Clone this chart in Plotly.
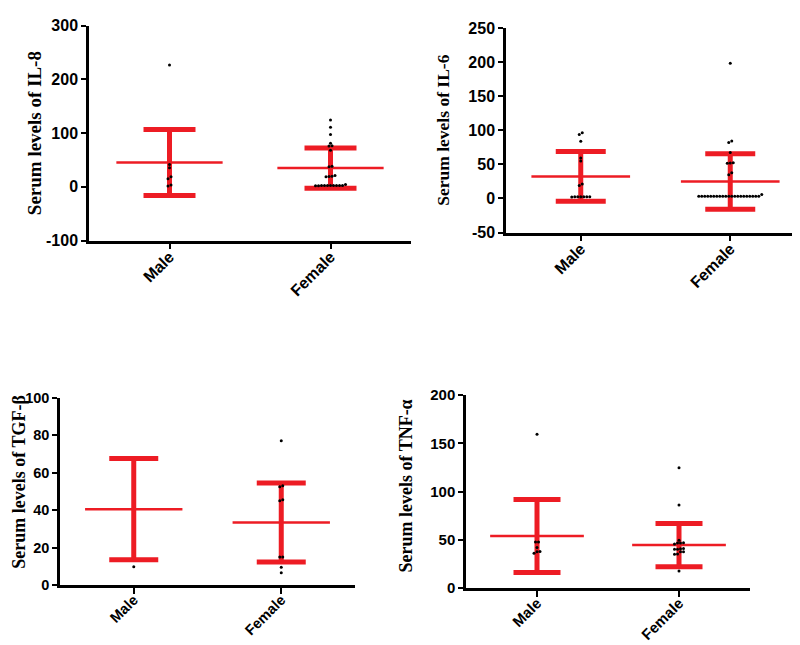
import plotly.graph_objects as go

# ---------------- data ----------------
categories = ["Male", "Female"]
y_titles = ["Serum levels of IL-8", "Serum levels of IL-6",
            "Serum levels of TGF-β", "Serum levels of TNF-α"]

il8_male = [227, 41.7, 35.6, 18.7, 15, 3.6, 1.8]
il8_female = [124.5, 111, 97.3, 81, 76.5, 76, 68, 38.5, 37.5, 21, 20, 19.5, 19,
              4.2, 2.6, 2.5, 2.4, 2.4, 2.3, 2.4, 2.5, 2.4, 2.3, 2.4]
il8_mean = [45.3, 35.0]
il8_sd = [61.3, 37.5]

il6_male = [96.7, 94, 84, 59.5, 55, 21.4, 19, 2.4, 2.4, 2.5, 2.3, 2.4, 2.4, 2.5]
il6_female = [198.6, 84.3, 82.4, 67.6, 52.5, 52, 51.6, 38, 34.8, 5.7] + [3.3] * 21
il6_mean = [32.4, 25.0]
il6_sd = [36.6, 40.7]

tgf_male = [9.7]
tgf_female = [77, 53, 52.5, 45.5, 45, 15, 15, 9.5, 6.6]
tgf_mean = [40.5, 33.4]
tgf_sd = [27.0, 21.1]

tnf_male = [159.3, 47.7, 47.5, 42, 37.8, 37.5, 36]
tnf_female = [124.7, 86, 49.4, 46.7, 46.5, 46.8, 45.5, 41, 40.5, 40, 40.2,
              37.6, 37.4, 35, 35.2, 17.5]
tnf_mean = [53.8, 44.4]
tnf_sd = [37.8, 22.5]

y_ticks = [[-100, 0, 100, 200, 300],
           [-50, 0, 50, 100, 150, 200, 250],
           [0, 20, 40, 60, 80, 100],
           [0, 50, 100, 150, 200]]

# ---------------- layout (pixel boxes) ----------------
W, H = 800, 645
RED = "#ED1C24"
panels = [
    dict(px=(81, 403), py=(9, 230), tx=26, ta="center", ty=119.5, ts=19, fs=16, cap=26,
         pts=(il8_male, il8_female), mean=il8_mean, sd=il8_sd),
    dict(px=(498, 797), py=(11.7, 221.7), tx=435.5, ta="center", ty=116.5, ts=17.5, fs=16, cap=25,
         pts=(il6_male, il6_female), mean=il6_mean, sd=il6_sd),
    dict(px=(52, 347), py=(391.7, 584.3), tx=0, ta="left", ty=478, ts=18, fs=14.5, cap=24.5,
         pts=(tgf_male, tgf_female), mean=tgf_mean, sd=tgf_sd),
    dict(px=(458, 742), py=(389, 587.3), tx=398, ta="center", ty=483, ts=18, fs=15, cap=23.5,
         pts=(tnf_male, tnf_female), mean=tnf_mean, sd=tnf_sd),
]


def swarm(values, center, thresh, step):
    groups = []
    for v in sorted(values):
        if groups and v - groups[-1][0] <= thresh:
            groups[-1].append(v)
        else:
            groups.append([v])
    xs, ys = [], []
    for g in groups:
        n = len(g)
        for k, v in enumerate(g):
            xs.append(center + (k - (n - 1) / 2) * step)
            ys.append(v)
    return xs, ys


fig = go.Figure()
annotations = []
for i, p in enumerate(panels):
    n = i + 1
    xa = "x" if n == 1 else f"x{n}"
    ya = "y" if n == 1 else f"y{n}"
    x0, x1 = p["px"]
    yt, yb = p["py"]
    ticks = y_ticks[i]
    lo, hi = ticks[0], ticks[-1]
    px_per_unit_x = (x1 - x0) / 2.0
    px_per_unit_y = (yb - yt) / (hi - lo)
    step = 3.0 / px_per_unit_x
    thresh = 2.6 / px_per_unit_y

    # mean lines
    for c in range(2):
        fig.add_trace(go.Scatter(
            x=[c - 0.33, c + 0.33], y=[p["mean"][c]] * 2, mode="lines",
            line=dict(color=RED, width=2.5), xaxis=xa, yaxis=ya,
            showlegend=False, hoverinfo="skip"))
    # SD error bars
    fig.add_trace(go.Scatter(
        x=[0, 1], y=p["mean"], mode="markers",
        marker=dict(size=0.1, color="rgba(0,0,0,0)"),
        error_y=dict(type="data", array=p["sd"], symmetric=True,
                     color=RED, thickness=5, width=p["cap"]),
        xaxis=xa, yaxis=ya, showlegend=False, hoverinfo="skip"))
    # individual points
    for c in range(2):
        xs, ys = swarm(p["pts"][c], c, thresh, step)
        fig.add_trace(go.Scatter(
            x=xs, y=ys, mode="markers",
            marker=dict(size=3, color="black"),
            xaxis=xa, yaxis=ya, showlegend=False))

    tickfont = dict(family="Liberation Sans, Arial", size=p["fs"], color="black", weight="bold")
    fig.layout[("xaxis" if n == 1 else f"xaxis{n}")] = dict(
        domain=[x0 / W, x1 / W], anchor=ya, range=[-0.5, 1.5],
        tickvals=[0, 1], ticktext=categories, tickangle=-45,
        showline=True, linecolor="black", linewidth=2.5,
        ticks="outside", ticklen=6, tickwidth=2, tickcolor="black",
        ticklabelstandoff=-8,
        showgrid=False, zeroline=False, tickfont=tickfont, fixedrange=True)
    fig.layout[("yaxis" if n == 1 else f"yaxis{n}")] = dict(
        domain=[1 - yb / H, 1 - yt / H], anchor=xa, range=[lo, hi],
        tickvals=ticks, ticktext=[str(t) for t in ticks],
        showline=True, linecolor="black", linewidth=2.5,
        ticks="outside", ticklen=5, tickwidth=2, tickcolor="black",
        showgrid=False, zeroline=False, tickfont=tickfont, fixedrange=True)
    annotations.append(dict(
        text=y_titles[i], xref="paper", yref="paper",
        x=p["tx"] / W, y=1 - p["ty"] / H, xanchor=p["ta"], yanchor="middle",
        textangle=-90, showarrow=False, borderpad=0,
        font=dict(family="Liberation Serif, Times New Roman", size=p["ts"],
                  color="black", weight="bold")))

fig.update_layout(
    width=W, height=H, margin=dict(l=0, r=0, t=0, b=0),
    paper_bgcolor="white", plot_bgcolor="white",
    annotations=annotations, showlegend=False)

fig.write_html("out.html")
